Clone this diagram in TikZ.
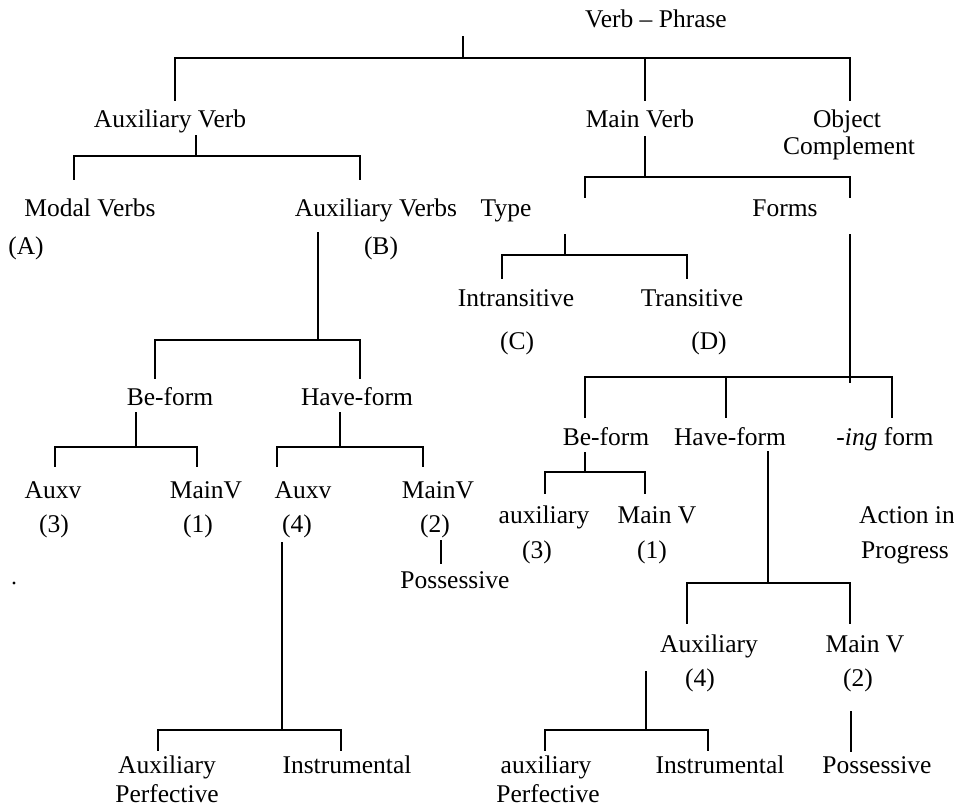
\documentclass[tikz,border=0pt]{standalone}
\usepackage{fontspec}
\setmainfont{Liberation Serif}
\begin{document}
\begin{tikzpicture}[x=1pt,y=-1pt,
  lbl/.style={anchor=base,inner sep=0pt,font=\fontsize{25.5}{27}\selectfont},
  branch/.style={line width=1.4pt,line cap=rect}]
\useasboundingbox (0,0) rectangle (954,807);

% ---------- labels ----------
\node[lbl] (vp) at (656,27) {Verb \textendash\ Phrase};
\node[lbl] (av) at (170,127) {Auxiliary Verb};
\node[lbl] (mv) at (640,127) {Main Verb};
\node[lbl] (obj) at (847,127) {Object};
\node[lbl] (comp) at (849,154) {Complement};
\node[lbl] (modal) at (90,216) {Modal Verbs};
\node[lbl] (auxvs) at (376,216) {Auxiliary Verbs};
\node[lbl] (type) at (506,216) {Type};
\node[lbl] (forms) at (785,216) {Forms};
\node[lbl] (A) at (26,254) {(A)};
\node[lbl] (B) at (381,254) {(B)};
\node[lbl] (intr) at (516,306) {Intransitive};
\node[lbl] (tran) at (692,306) {Transitive};
\node[lbl] (C) at (517,349) {(C)};
\node[lbl] (D) at (709,349) {(D)};
\node[lbl] (beL) at (170,405) {Be-form};
\node[lbl] (haveL) at (357,405) {Have-form};
\node[lbl] (beR) at (606,445) {Be-form};
\node[lbl] (haveR) at (730,445) {Have-form};
\node[lbl] (ing) at (885,445) {-\textit{ing} form};
\node[lbl] (auxvA) at (53,498) {Auxv};
\node[lbl] (n3L) at (54,532) {(3)};
\node[lbl] (mainvA) at (206,498) {MainV};
\node[lbl] (n1L) at (198,532) {(1)};
\node[lbl] (auxvB) at (303,498) {Auxv};
\node[lbl] (n4L) at (297,532) {(4)};
\node[lbl] (mainvB) at (438,498) {MainV};
\node[lbl] (n2L) at (435,532) {(2)};
\node[lbl] (possL) at (455,588) {Possessive};
\node[lbl] (auxR) at (544,523) {auxiliary};
\node[lbl] (n3R) at (537,558) {(3)};
\node[lbl] (mainR) at (657,523) {Main V};
\node[lbl] (n1R) at (652,558) {(1)};
\node[lbl] (act) at (907,523) {Action in};
\node[lbl] (prog) at (905,558) {Progress};
\node[lbl] (auxR2) at (709,652) {Auxiliary};
\node[lbl] (n4R) at (700,686) {(4)};
\node[lbl] (mainR2) at (865,652) {Main V};
\node[lbl] (n2R) at (858,686) {(2)};
\node[lbl] (auxPL) at (167,773) {Auxiliary};
\node[lbl] (perfL) at (167,802) {Perfective};
\node[lbl] (instrL) at (347,773) {Instrumental};
\node[lbl] (auxPR) at (546,773) {auxiliary};
\node[lbl] (perfR) at (548,802) {Perfective};
\node[lbl] (instrR) at (720,773) {Instrumental};
\node[lbl] (possR) at (877,773) {Possessive};
\fill (14,583) circle (1.6);

% ---------- junction points ----------
% verb phrase
\coordinate (vp1) at (463,37);  \coordinate (vp2) at (463,58);
\coordinate (t1a) at (175,100); \coordinate (t1b) at (175,58);
\coordinate (t1c) at (850,58);  \coordinate (t1d) at (850,100);
\coordinate (t1e) at (645,58);  \coordinate (t1f) at (645,100);
% auxiliary verb
\coordinate (av1) at (196,136); \coordinate (av2) at (196,156);
\coordinate (av3) at (74,179);  \coordinate (av4) at (74,156);
\coordinate (av5) at (360,156); \coordinate (av6) at (360,179);
% main verb
\coordinate (mv1) at (645,137); \coordinate (mv2) at (645,177);
\coordinate (mv3) at (585,197); \coordinate (mv4) at (585,177);
\coordinate (mv5) at (850,177); \coordinate (mv6) at (850,197);
% type
\coordinate (ty1) at (565,235); \coordinate (ty2) at (565,255);
\coordinate (ty3) at (502,278); \coordinate (ty4) at (502,255);
\coordinate (ty5) at (687,255); \coordinate (ty6) at (687,278);
% forms
\coordinate (fo1) at (850,235); \coordinate (fo2) at (850,382);
\coordinate (fo3) at (585,417); \coordinate (fo4) at (585,377);
\coordinate (fo5) at (892,377); \coordinate (fo6) at (892,417);
\coordinate (fo7) at (726,377); \coordinate (fo8) at (726,417);
% be-form (right)
\coordinate (br1) at (585,453); \coordinate (br2) at (585,472);
\coordinate (br3) at (545,493); \coordinate (br4) at (545,472);
\coordinate (br5) at (645,472); \coordinate (br6) at (645,493);
% have-form (right)
\coordinate (hr1) at (768,452); \coordinate (hr2) at (768,583);
\coordinate (hr3) at (687,623); \coordinate (hr4) at (687,583);
\coordinate (hr5) at (850,583); \coordinate (hr6) at (850,623);
% auxiliary (4), right
\coordinate (ar1) at (646,672); \coordinate (ar2) at (646,730);
\coordinate (ar3) at (545,750); \coordinate (ar4) at (545,730);
\coordinate (ar5) at (708,730); \coordinate (ar6) at (708,750);
% main v (2), right
\coordinate (mr1) at (851,712); \coordinate (mr2) at (851,751);
% auxiliary verbs
\coordinate (as1) at (318,233); \coordinate (as2) at (318,340);
\coordinate (as3) at (155,378); \coordinate (as4) at (155,340);
\coordinate (as5) at (360,340); \coordinate (as6) at (360,378);
% be-form (left)
\coordinate (bl1) at (136,413); \coordinate (bl2) at (136,447);
\coordinate (bl3) at (55,466);  \coordinate (bl4) at (55,447);
\coordinate (bl5) at (197,447); \coordinate (bl6) at (197,466);
% have-form (left)
\coordinate (hl1) at (340,413); \coordinate (hl2) at (340,447);
\coordinate (hl3) at (277,466); \coordinate (hl4) at (277,447);
\coordinate (hl5) at (423,447); \coordinate (hl6) at (423,466);
% auxv (4), left
\coordinate (al1) at (282,543); \coordinate (al2) at (282,730);
\coordinate (al3) at (158,750); \coordinate (al4) at (158,730);
\coordinate (al5) at (341,730); \coordinate (al6) at (341,750);
% mainv (2), left
\coordinate (ml1) at (441,541); \coordinate (ml2) at (441,563);

% ---------- branches ----------
\draw[branch] (vp1) -- (vp2);
\draw[branch] (t1a) -- (t1b) -- (t1c) -- (t1d);
\draw[branch] (t1e) -- (t1f);

\draw[branch] (av1) -- (av2);
\draw[branch] (av3) -- (av4) -- (av5) -- (av6);

\draw[branch] (mv1) -- (mv2);
\draw[branch] (mv3) -- (mv4) -- (mv5) -- (mv6);

\draw[branch] (ty1) -- (ty2);
\draw[branch] (ty3) -- (ty4) -- (ty5) -- (ty6);

\draw[branch] (fo1) -- (fo2);
\draw[branch] (fo3) -- (fo4) -- (fo5) -- (fo6);
\draw[branch] (fo7) -- (fo8);

\draw[branch] (br1) -- (br2);
\draw[branch] (br3) -- (br4) -- (br5) -- (br6);

\draw[branch] (hr1) -- (hr2);
\draw[branch] (hr3) -- (hr4) -- (hr5) -- (hr6);

\draw[branch] (ar1) -- (ar2);
\draw[branch] (ar3) -- (ar4) -- (ar5) -- (ar6);

\draw[branch] (mr1) -- (mr2);

\draw[branch] (as1) -- (as2);
\draw[branch] (as3) -- (as4) -- (as5) -- (as6);

\draw[branch] (bl1) -- (bl2);
\draw[branch] (bl3) -- (bl4) -- (bl5) -- (bl6);

\draw[branch] (hl1) -- (hl2);
\draw[branch] (hl3) -- (hl4) -- (hl5) -- (hl6);

\draw[branch] (al1) -- (al2);
\draw[branch] (al3) -- (al4) -- (al5) -- (al6);

\draw[branch] (ml1) -- (ml2);
\end{tikzpicture}
\end{document}
